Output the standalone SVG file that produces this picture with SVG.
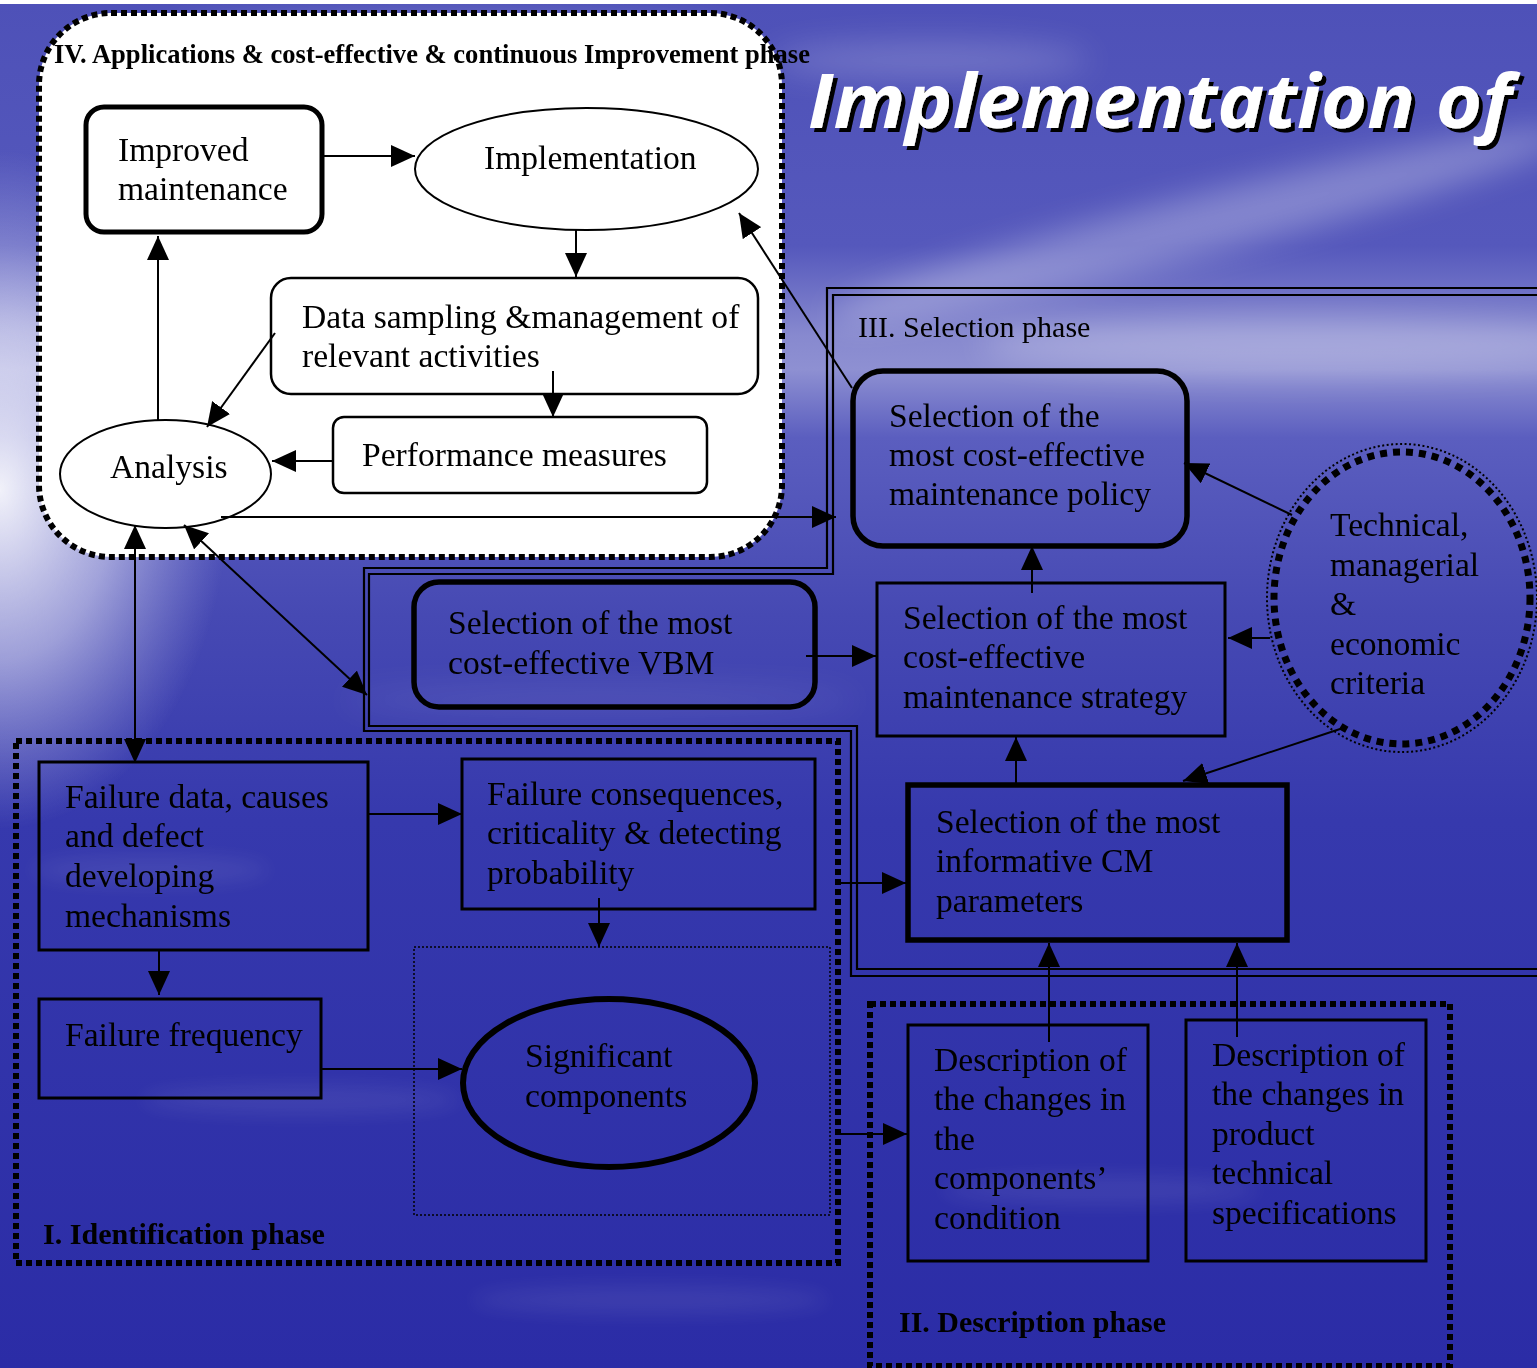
<svg xmlns="http://www.w3.org/2000/svg" width="1537" height="1368" viewBox="0 0 1537 1368">
<style>
.t{font-family:"Liberation Serif","Times New Roman",serif;font-size:33.6px;fill:#000}
.lb{font-family:"Liberation Serif","Times New Roman",serif;font-weight:bold;fill:#000}
.ln{fill:none;stroke:#000;stroke-width:2}
.ar{marker-end:url(#ah)}
.ar2{marker-start:url(#ah);marker-end:url(#ah)}
.ph{fill:none;stroke:#000;stroke-width:6;stroke-dasharray:6 4}
.dbl{fill:none;stroke:#000;stroke-width:2.2}
.nb{fill:none;stroke:#000}
</style>
<defs>
<linearGradient id="bg" x1="0" y1="0" x2="0" y2="1">
<stop offset="0" stop-color="#4e51b8"/>
<stop offset="0.18" stop-color="#5558bc"/>
<stop offset="0.245" stop-color="#8789cf"/>
<stop offset="0.27" stop-color="#8e90d2"/>
<stop offset="0.32" stop-color="#5b5ebf"/>
<stop offset="0.45" stop-color="#4649b3"/>
<stop offset="0.6" stop-color="#3639ad"/>
<stop offset="1" stop-color="#2b2ca6"/>
</linearGradient>
<radialGradient id="glowg">
<stop offset="0" stop-color="#ffffff" stop-opacity="0.92"/>
<stop offset="0.5" stop-color="#e8e8f8" stop-opacity="0.55"/>
<stop offset="1" stop-color="#c8c9ee" stop-opacity="0"/>
</radialGradient>
<filter id="blur" x="-50%" y="-50%" width="200%" height="200%"><feGaussianBlur stdDeviation="16"/></filter>
<filter id="blur2" x="-50%" y="-50%" width="200%" height="200%"><feGaussianBlur stdDeviation="10"/></filter>
<filter id="shadow" x="-5%" y="-20%" width="110%" height="150%">
<feOffset in="SourceAlpha" dx="4" dy="4" result="o"/>
<feFlood flood-color="#000"/>
<feComposite in2="o" operator="in" result="s"/>
<feMerge><feMergeNode in="s"/><feMergeNode in="SourceGraphic"/></feMerge>
</filter>
<marker id="ah" markerWidth="24" markerHeight="22" refX="24" refY="11" orient="auto-start-reverse" markerUnits="userSpaceOnUse"><path d="M0,0 L24,11 L0,22 z" fill="#000"/></marker>
</defs>

<g id="background">
<rect width="1537" height="1368" fill="url(#bg)"/>
<g filter="url(#blur)" fill="#ffffff">
<ellipse cx="1200" cy="225" rx="380" ry="30" transform="rotate(-14 1200 225)" opacity="0.28"/>
<ellipse cx="930" cy="60" rx="160" ry="18" opacity="0.2"/>
<ellipse cx="1300" cy="345" rx="320" ry="28" opacity="0.25"/>
<ellipse cx="450" cy="35" rx="280" ry="18" opacity="0.2"/>
<ellipse cx="600" cy="700" rx="260" ry="14" opacity="0.1"/>
</g>
<ellipse cx="0" cy="490" rx="230" ry="340" fill="url(#glowg)"/>
<g filter="url(#blur2)" fill="#ffffff" opacity="0.08">
<ellipse cx="300" cy="1100" rx="160" ry="14"/>
<ellipse cx="650" cy="1300" rx="180" ry="14"/>
<ellipse cx="1100" cy="1190" rx="160" ry="14"/>
<ellipse cx="150" cy="870" rx="120" ry="14"/>
</g>
<rect width="1537" height="4" fill="#ffffff"/>
</g>

<g id="title">
<text x="808" y="128" font-family="Open Sans,DejaVu Sans,sans-serif" font-weight="bold" font-style="italic" font-size="76" fill="#fff" textLength="704" lengthAdjust="spacingAndGlyphs" filter="url(#shadow)">Implementation of</text>
</g>

<g id="phase-IV">
<rect x="39" y="13" width="743" height="544" rx="72" ry="72" fill="#fff"/>
<rect x="39" y="13" width="743" height="544" rx="72" ry="72" class="ph"/>
<text class="lb" x="54" y="63" style="font-size:26.5px" textLength="756" lengthAdjust="spacingAndGlyphs">IV. Applications &amp; cost-effective &amp; continuous Improvement phase</text>
</g>

<g id="phase-III">
<polyline class="dbl" points="1537,288 827,288 827,568 364,568 364,731 851,731 851,976 1537,976"/>
<polyline class="dbl" points="1537,295 833,295 833,574 369,574 369,726 857,726 857,969 1537,969"/>
<text class="t" x="858" y="337" style="font-size:30px">III. Selection phase</text>
</g>

<g id="phase-I">
<rect x="16" y="741" width="822" height="522" class="ph"/>
<rect x="414" y="947" width="416" height="268" fill="none" stroke="#000" stroke-width="1.5" stroke-dasharray="2 2"/>
<text class="lb" x="43" y="1244" style="font-size:29px" textLength="282" lengthAdjust="spacingAndGlyphs">I. Identification phase</text>
</g>

<g id="phase-II">
<rect x="870" y="1004" width="580" height="362" class="ph"/>
<text class="lb" x="899" y="1332" style="font-size:29px" textLength="267" lengthAdjust="spacingAndGlyphs">II. Description phase</text>
</g>

<g id="node-improved">
<rect x="86" y="107" width="236" height="125" rx="18" class="nb" stroke-width="5"/>
<text class="t" x="118" y="161">Improved</text>
<text class="t" x="118" y="200">maintenance</text>
</g>
<g id="node-implementation">
<ellipse cx="586.5" cy="169" rx="171.5" ry="61" class="nb" stroke-width="2"/>
<text class="t" x="484" y="169">Implementation</text>
</g>
<g id="node-data">
<rect x="271" y="278" width="487" height="116" rx="20" class="nb" stroke-width="2.5"/>
<text class="t" x="302" y="328">Data sampling &amp;management of</text>
<text class="t" x="302" y="367">relevant activities</text>
</g>
<g id="node-performance">
<rect x="333" y="417" width="374" height="76" rx="11" class="nb" stroke-width="2.5"/>
<text class="t" x="362" y="466">Performance measures</text>
</g>
<g id="node-analysis">
<ellipse cx="165.5" cy="474" rx="105.5" ry="54" class="nb" stroke-width="2"/>
<text class="t" x="110" y="478">Analysis</text>
</g>

<g id="node-policy">
<rect x="853" y="371" width="334" height="175" rx="30" class="nb" stroke-width="5.5"/>
<text class="t" x="889" y="427">Selection of the</text>
<text class="t" x="889" y="466">most cost-effective</text>
<text class="t" x="889" y="505">maintenance policy</text>
</g>
<g id="node-strategy">
<rect x="877" y="583" width="348" height="153" class="nb" stroke-width="3"/>
<text class="t" x="903" y="629">Selection of the most</text>
<text class="t" x="903" y="668">cost-effective</text>
<text class="t" x="903" y="708">maintenance strategy</text>
</g>
<g id="node-vbm">
<rect x="414" y="582" width="401" height="125" rx="25" class="nb" stroke-width="5.5"/>
<text class="t" x="448" y="634">Selection of the most</text>
<text class="t" x="448" y="674">cost-effective VBM</text>
</g>
<g id="node-cm">
<rect x="908" y="785" width="379" height="155" class="nb" stroke-width="5.5"/>
<text class="t" x="936" y="833">Selection of the most</text>
<text class="t" x="936" y="872">informative CM</text>
<text class="t" x="936" y="912">parameters</text>
</g>
<g id="node-criteria">
<ellipse cx="1402" cy="598" rx="135" ry="154" fill="none" stroke="#000" stroke-width="2" stroke-dasharray="2 2.5"/>
<ellipse cx="1402" cy="598" rx="128" ry="146" fill="none" stroke="#000" stroke-width="7" stroke-dasharray="7 6"/>
<text class="t" x="1330" y="536">Technical,</text>
<text class="t" x="1330" y="576">managerial</text>
<text class="t" x="1330" y="615">&amp;</text>
<text class="t" x="1330" y="655">economic</text>
<text class="t" x="1330" y="694">criteria</text>
</g>

<g id="node-failure-data">
<rect x="39" y="762" width="329" height="188" class="nb" stroke-width="3"/>
<text class="t" x="65" y="808">Failure data, causes</text>
<text class="t" x="65" y="847">and defect</text>
<text class="t" x="65" y="887">developing</text>
<text class="t" x="65" y="927">mechanisms</text>
</g>
<g id="node-consequences">
<rect x="462" y="759" width="353" height="150" class="nb" stroke-width="3"/>
<text class="t" x="487" y="805">Failure consequences,</text>
<text class="t" x="487" y="844">criticality &amp; detecting</text>
<text class="t" x="487" y="884">probability</text>
</g>
<g id="node-frequency">
<rect x="39" y="999" width="282" height="99" class="nb" stroke-width="3"/>
<text class="t" x="65" y="1046">Failure frequency</text>
</g>
<g id="node-significant">
<ellipse cx="609" cy="1083" rx="146" ry="84" class="nb" stroke-width="6"/>
<text class="t" x="525" y="1067">Significant</text>
<text class="t" x="525" y="1107">components</text>
</g>

<g id="node-desc1">
<rect x="908" y="1025" width="240" height="236" class="nb" stroke-width="3"/>
<text class="t" x="934" y="1071">Description of</text>
<text class="t" x="934" y="1110">the changes in</text>
<text class="t" x="934" y="1150">the</text>
<text class="t" x="934" y="1189">components’</text>
<text class="t" x="934" y="1229">condition</text>
</g>
<g id="node-desc2">
<rect x="1186" y="1020" width="240" height="241" class="nb" stroke-width="3"/>
<text class="t" x="1212" y="1066">Description of</text>
<text class="t" x="1212" y="1105">the changes in</text>
<text class="t" x="1212" y="1145">product</text>
<text class="t" x="1212" y="1184">technical</text>
<text class="t" x="1212" y="1224">specifications</text>
</g>

<g id="connectors">
<path class="ln ar" d="M323,156 L415,156"/>
<path class="ln ar" d="M576,230 L576,277"/>
<path class="ln ar" d="M553,371 L553,417"/>
<path class="ln ar" d="M333,461 L272,461"/>
<path class="ln ar" d="M275,333 L207,427"/>
<path class="ln ar" d="M158,420 L158,236"/>
<path class="ln ar" d="M221,517 L836,517"/>
<path class="ln ar2" d="M135,525 L135,763"/>
<path class="ln ar2" d="M184,525 L367,695"/>
<path class="ln ar" d="M852,388 L739,213"/>
<path class="ln ar" d="M806,656 L876,656"/>
<path class="ln ar" d="M1032,593 L1032,546"/>
<path class="ln ar" d="M1016,784 L1016,737"/>
<path class="ln ar" d="M1292,515 L1184,463"/>
<path class="ln ar" d="M1270,638 L1228,638"/>
<path class="ln ar" d="M1340,729 L1183,781"/>
<path class="ln ar" d="M369,814 L462,814"/>
<path class="ln ar" d="M599,898 L599,947"/>
<path class="ln ar" d="M159,950 L159,995"/>
<path class="ln ar" d="M322,1069 L462,1069"/>
<path class="ln ar" d="M838,883 L906,883"/>
<path class="ln ar" d="M838,1134 L907,1134"/>
<path class="ln ar" d="M1049,1042 L1049,943"/>
<path class="ln ar" d="M1237,1037 L1237,943"/>
</g>
</svg>
